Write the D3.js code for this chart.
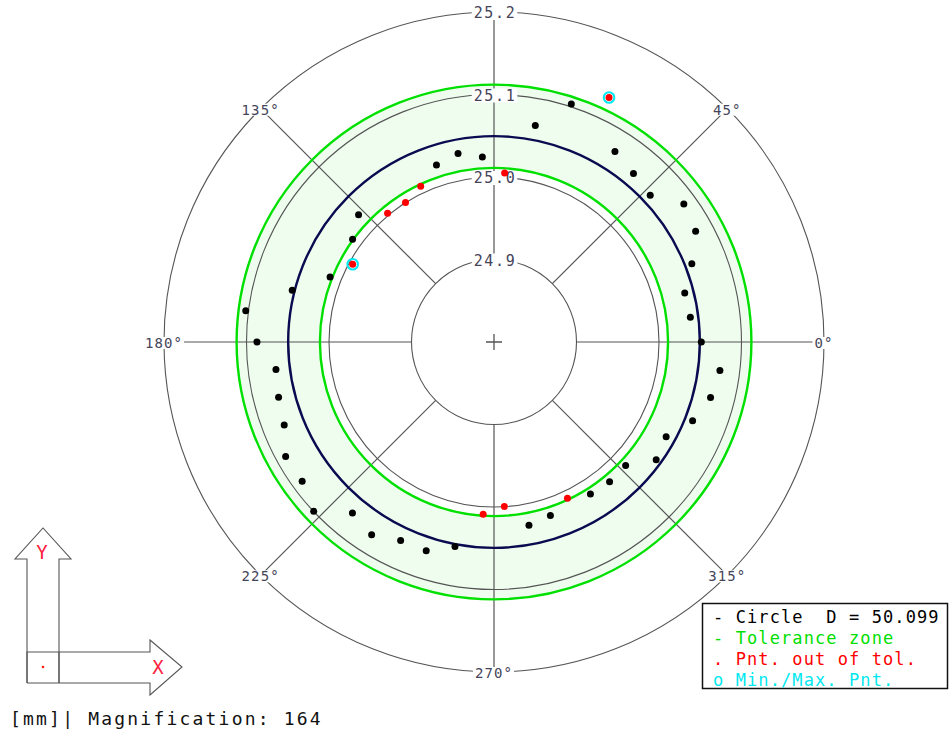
<!DOCTYPE html>
<html>
<head>
<meta charset="utf-8">
<script src="https://cdn.jsdelivr.net/npm/d3@7"></script>
<style>
  body { margin: 0; background: #fff; }
  text { font-family: "DejaVu Sans Mono", monospace; white-space: pre; }
</style>
</head>
<body>
<div id="roundness"></div>
<script>
// roundness plot: measured radius per angle, tolerance zone, fitted circle

const angles = [0, 7.2, 14.4, 21.6, 28.8, 36, 43.2, 50.4, 57.6, 64.8,
  72, 79.2, 86.4, 93.6, 100.8, 108, 115.2, 122.4, 129.6, 136.8,
  144, 151.2, 158.4, 165.6, 172.8, 180, 187.2, 194.4, 201.6, 208.8,
  216, 223.2, 230.4, 237.6, 244.8, 252, 259.2, 266.4, 273.6, 280.8,
  288, 295.2, 302.4, 309.6, 316.8, 324, 331.2, 338.4, 345.6, 352.8];
const radii = [25.0513, 25.0399, 25.0387, 25.0579, 25.0789, 25.0844, 25.0598, 25.0652, 25.0736, 25.1275,
  25.1033, 25.0672, 25.0052, 25.0247, 25.0326, 25.0257, 25.0087, 25.0002, 25.0024, 25.0252,
  25.0119, 24.9955, 25.0137, 25.0525, 25.1033, 25.0873, 25.0664, 25.0696, 25.0735, 25.0882,
  25.0874, 25.0998, 25.0692, 25.0768, 25.0658, 25.0659, 25.0525, 25.0093, 24.9999, 25.0261,
  25.0212, 25.0092, 25.0181, 25.0198, 25.0189, 25.0430, 25.0381, 25.0589, 25.0710, 25.0760];

const ringValues = [24.9, 25.0, 25.1, 25.2];
const spokeAngles = [0, 45, 90, 135, 180, 225, 270, 315];
const tolLow = 25.011, tolHigh = 25.112;
const fitRadius = 25.0495;
const legendLines = [
  { text: "- Circle  D = 50.099", color: "#000" },
  { text: "- Tolerance zone", color: "#00e000" },
  { text: ". Pnt. out of tol.", color: "#ff0000" },
  { text: "o Min./Max. Pnt.", color: "#00e8f0" }
];

const width = 949, height = 731;
const cx = 494, cy = 342;
const grid = "#555";

const svg = d3.select("#roundness").append("svg")
  .attr("width", width).attr("height", height);

const r = d3.scaleLinear().domain([24.8, 25.2]).range([0, 330]);
const rad = a => a * Math.PI / 180;
const px = (a, v) => cx + r(v) * Math.cos(rad(a));
const py = (a, v) => cy - r(v) * Math.sin(rad(a));

const g = svg.append("g");

// tolerance zone
const zone = d3.arc().innerRadius(r(tolLow)).outerRadius(r(tolHigh))
  .startAngle(0).endAngle(2 * Math.PI);
g.append("path").attr("d", zone()).attr("transform", `translate(${cx},${cy})`)
  .attr("fill", "#effdef");

// rings
g.selectAll("circle.ring").data(ringValues).join("circle")
  .attr("class", "ring")
  .attr("cx", cx).attr("cy", cy).attr("r", d => r(d))
  .attr("fill", "none").attr("stroke", grid).attr("stroke-width", 1.1);

// spokes
g.selectAll("line.spoke").data(spokeAngles).join("line")
  .attr("x1", d => px(d, 24.9)).attr("y1", d => py(d, 24.9))
  .attr("x2", d => px(d, 25.2)).attr("y2", d => py(d, 25.2))
  .attr("stroke", grid).attr("stroke-width", 1.2);

// tolerance circles
g.selectAll("circle.tol").data([tolLow, tolHigh]).join("circle")
  .attr("cx", cx).attr("cy", cy).attr("r", d => r(d))
  .attr("fill", "none").attr("stroke", "#00e000").attr("stroke-width", 2.4);

// fitted circle
g.append("circle").attr("cx", cx).attr("cy", cy).attr("r", r(fitRadius))
  .attr("fill", "none").attr("stroke", "#0a0a50").attr("stroke-width", 2.4);

// centre cross
g.append("path").attr("d", `M${cx - 8},${cy}H${cx + 8}M${cx},${cy - 8}V${cy + 8}`)
  .attr("stroke", grid).attr("stroke-width", 1.3);

// labels with white backing
function boxLabel(x, y, txt, size, spacing) {
  const t = g.append("text").attr("x", x).attr("y", y)
    .attr("text-anchor", "middle").attr("dominant-baseline", "central")
    .attr("font-size", size).attr("letter-spacing", spacing)
    .attr("fill", "#45455a").text(txt);
  const b = t.node().getBBox();
  g.insert("rect", () => t.node())
    .attr("x", b.x - 2).attr("y", b.y + 2).attr("width", b.width + 3).attr("height", b.height - 4)
    .attr("fill", "#fff");
}
ringValues.forEach(v => boxLabel(cx + 1, py(90, v) + 1, v.toFixed(1), 15, 1.6));
spokeAngles.filter(a => a !== 90).forEach(a => {
  boxLabel(px(a, 25.2), py(a, 25.2) + 1, a + "°", 14, 1.1);
});

// measured points
const iMin = d3.minIndex(radii), iMax = d3.maxIndex(radii);
const pts = angles.map((a, i) => ({ a, v: radii[i], i }));

g.selectAll("circle.ext").data([iMin, iMax]).join("circle")
  .attr("cx", i => px(angles[i], radii[i])).attr("cy", i => py(angles[i], radii[i]))
  .attr("r", 5.3).attr("fill", "none").attr("stroke", "#00e8f0").attr("stroke-width", 2);

g.selectAll("circle.pt").data(pts).join("circle")
  .attr("cx", d => px(d.a, d.v)).attr("cy", d => py(d.a, d.v))
  .attr("r", 3.5)
  .attr("fill", d => (d.v < tolLow || d.v > tolHigh) ? "#ff0000" : "#000");

// legend
const lg = svg.append("g");
lg.append("rect").attr("x", 702.5).attr("y", 603.5).attr("width", 245).attr("height", 85)
  .attr("fill", "#fff").attr("stroke", "#111").attr("stroke-width", 1.5);
lg.selectAll("text").data(legendLines).join("text")
  .attr("x", 713).attr("y", (d, i) => 623 + i * 21)
  .attr("font-size", 17).attr("letter-spacing", 1.1)
  .attr("fill", d => d.color).text(d => d.text);

// XY orientation icon
const ic = svg.append("g").attr("fill", "none").attr("stroke", "#555").attr("stroke-width", 1.1);
ic.append("path").attr("d", "M27,683V559H15L43,528L71,559H59V683");
ic.append("path").attr("d", "M27,683H150V695L182,667L150,640V652H27V683");
ic.append("path").attr("d", "M59,652V683");
svg.append("circle").attr("cx", 43).attr("cy", 667).attr("r", 1.3).attr("fill", "#ff2020");
svg.append("text").attr("x", 42).attr("y", 559).attr("text-anchor", "middle")
  .attr("font-family", "DejaVu Sans").attr("font-size", 19).attr("fill", "#ff2040").text("Y");
svg.append("text").attr("x", 158).attr("y", 674).attr("text-anchor", "middle")
  .attr("font-family", "DejaVu Sans").attr("font-size", 19).attr("fill", "#ff2040").text("X");

svg.append("text").attr("x", 10).attr("y", 725)
  .attr("font-size", 18).attr("letter-spacing", 2.2).attr("fill", "#111")
  .text("[mm]| Magnification: 164");
</script>
</body>
</html>
